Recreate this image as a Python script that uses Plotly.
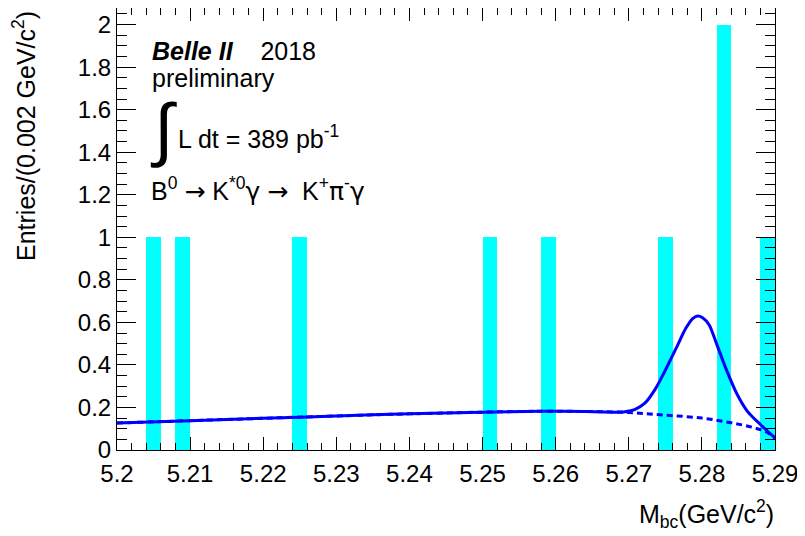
import plotly.graph_objects as go

# Histogram bins (centers, GeV/c^2) and entries
bin_centers = [5.205, 5.209, 5.225, 5.251, 5.259, 5.275, 5.283, 5.289]
entries = [1, 1, 1, 1, 1, 1, 2, 1]
bin_width = 0.002

# Background (dashed) fit curve points
bkg_x = [5.200, 5.210, 5.220, 5.230, 5.240, 5.250, 5.258, 5.264, 5.270, 5.275,
         5.280, 5.284, 5.287, 5.289, 5.290]
bkg_y = [0.127, 0.138, 0.149, 0.160, 0.170, 0.178, 0.182, 0.181, 0.176, 0.164,
         0.150, 0.128, 0.106, 0.082, 0.055]

# Total (solid) fit curve points
tot_x = [5.200, 5.210, 5.220, 5.230, 5.240, 5.250, 5.258, 5.264, 5.268, 5.2695,
         5.2708, 5.2722, 5.2736, 5.275, 5.2765, 5.2778, 5.2787, 5.2794, 5.2801,
         5.2810, 5.282, 5.2834, 5.2848, 5.2862, 5.288, 5.289, 5.290]
tot_y = [0.127, 0.138, 0.149, 0.160, 0.170, 0.178, 0.182, 0.181, 0.178, 0.180,
         0.190, 0.220, 0.285, 0.375, 0.480, 0.572, 0.617, 0.630, 0.622,
         0.588, 0.500, 0.373, 0.263, 0.183, 0.120, 0.088, 0.058]

FONT = "Liberation Sans, Arial, Helvetica, sans-serif"

# The page body has an 8px margin: size the figure so the frame lands where the
# reference frame is (x 117..775, y ~4..450 in the window).
OFF = 8
W, H = 805 - OFF, 536 - OFF
L, R, T = 117 - OFF, 30, 0
B = H - (450 - OFF)
pw = W - L - R
ph = H - T - B
Y_PER_UNIT = 212.7
y_top = ph / Y_PER_UNIT

fig = go.Figure()
fig.add_trace(go.Bar(x=bin_centers, y=entries, width=bin_width,
                     marker=dict(color="#00FFFF", line=dict(width=0)),
                     showlegend=False))
fig.add_trace(go.Scatter(x=bkg_x, y=bkg_y, mode="lines",
                         line=dict(color="#0000FF", width=3, dash="6px,4px",
                                   shape="spline"),
                         showlegend=False))
fig.add_trace(go.Scatter(x=tot_x, y=tot_y, mode="lines",
                         line=dict(color="#0000FF", width=3, shape="spline",
                                   smoothing=0.8),
                         showlegend=False))

axis_common = dict(showline=True, linecolor="black", linewidth=1, mirror="allticks",
                   ticks="inside", tickcolor="black", showgrid=False, zeroline=False,
                   automargin=False,
                   tickfont=dict(family=FONT, size=24, color="black"))

fig.update_xaxes(range=[5.2, 5.29], dtick=0.01, tick0=5.2, ticklen=13,
                 ticklabelstandoff=2,
                 minor=dict(ticks="inside", ticklen=7, dtick=0.002, tickcolor="black",
                            showgrid=False),
                 **axis_common)
fig.update_yaxes(range=[0, y_top], dtick=0.2, tick0=0, ticklen=19,
                 minor=dict(ticks="inside", ticklen=10, dtick=0.05, tickcolor="black",
                            showgrid=False),
                 **axis_common)


def py(pix):
    return 1 - (pix - OFF - T) / ph


def px(pix):
    return (pix - OFF - L) / pw


def dv(s):
    return "<span style='font-family:DejaVu Sans'>" + s + "</span>"


ARROW = dv("→")

annotations = [
    dict(text="Entries/(0.002 GeV/c<sup>2</sup>)", textangle=-90,
         xref="paper", yref="paper", x=px(24), y=py(9),
         xanchor="center", yanchor="top", showarrow=False,
         font=dict(family=FONT, size=25, color="black")),
    dict(text="M<sub>bc</sub>(GeV/c<sup>2</sup>)",
         xref="paper", yref="paper", x=px(776), y=py(514),
         xanchor="right", yanchor="middle", showarrow=False,
         font=dict(family=FONT, size=25, color="black")),
    dict(text="<b><i>Belle II</i></b>    2018",
         xref="paper", yref="paper", x=px(150), y=py(51),
         xanchor="left", yanchor="middle", showarrow=False,
         font=dict(family=FONT, size=25, color="black")),
    dict(text="preliminary",
         xref="paper", yref="paper", x=px(150), y=py(78),
         xanchor="left", yanchor="middle", showarrow=False,
         font=dict(family=FONT, size=25, color="black")),
    dict(text="∫",
         xref="paper", yref="paper", x=px(148), y=py(129),
         xanchor="left", yanchor="middle", showarrow=False,
         font=dict(family=FONT, size=70, color="black")),
    dict(text="L dt = 389 pb<sup>-1</sup>",
         xref="paper", yref="paper", x=px(176), y=py(137),
         xanchor="left", yanchor="middle", showarrow=False,
         font=dict(family=FONT, size=25, color="black")),
    dict(text="B<sup>0</sup> " + ARROW + " K<sup>*0</sup>" + dv("γ") + " " + ARROW
         + "  K<sup>+</sup>" + dv("π") + "<sup>-</sup>" + dv("γ"),
         xref="paper", yref="paper", x=px(149), y=py(189),
         xanchor="left", yanchor="middle", showarrow=False,
         font=dict(family=FONT, size=25, color="black")),
]

fig.update_layout(width=W, height=H, margin=dict(l=L, r=R, t=T, b=B),
                  plot_bgcolor="white", paper_bgcolor="white",
                  bargap=0, annotations=annotations, showlegend=False)

fig.write_html("out.html")
